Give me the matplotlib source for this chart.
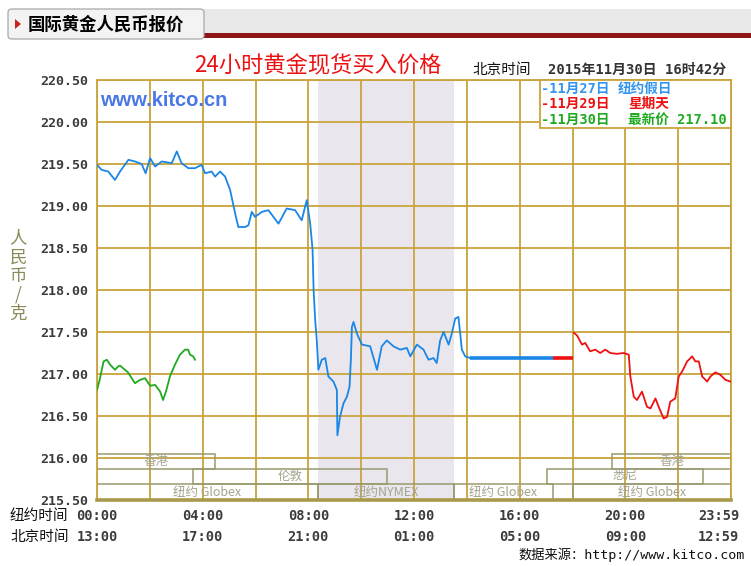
import matplotlib
matplotlib.use('Agg')
import matplotlib.pyplot as plt
import matplotlib.transforms as mtransforms
from matplotlib.patches import Rectangle, FancyBboxPatch, Polygon
import numpy as np

# ---------------- data ----------------
# 11/27 (NY holiday) - hours NY time, price RMB/g
blue_h = [0.0, 0.18, 0.43, 0.68, 0.87, 1.19, 1.44, 1.69, 1.84, 2.01, 2.2, 2.45, 2.83, 3.02,
          3.2, 3.46, 3.71, 3.96, 4.09, 4.34, 4.47, 4.66, 4.85, 5.04, 5.23, 5.35, 5.61, 5.73,
          5.86, 5.98, 6.24, 6.49, 6.87, 7.18, 7.5, 7.75, 7.94, 8.07, 8.16, 8.2, 8.26, 8.32,
          8.38, 8.51, 8.64, 8.76, 8.95, 9.08, 9.1, 9.2, 9.33, 9.46, 9.56, 9.61, 9.65, 9.71,
          9.84, 10.03, 10.34, 10.6, 10.78, 10.97, 11.22, 11.48, 11.73, 11.86, 12.11, 12.36,
          12.55, 12.74, 12.86, 12.99, 13.12, 13.31, 13.43, 13.56, 13.68, 13.75, 13.81, 13.94,
          14.13]
blue_v = [219.49, 219.43, 219.41, 219.31, 219.41, 219.55, 219.53, 219.50, 219.39, 219.57,
          219.47, 219.53, 219.51, 219.65, 219.51, 219.45, 219.45, 219.49, 219.39, 219.41,
          219.35, 219.41, 219.35, 219.19, 218.91, 218.75, 218.75, 218.77, 218.93, 218.87,
          218.93, 218.95, 218.79, 218.97, 218.95, 218.83, 219.07, 218.79, 218.48, 218.00,
          217.64, 217.40, 217.05, 217.17, 217.19, 216.97, 216.91, 216.81, 216.27, 216.49,
          216.65, 216.73, 216.85, 217.17, 217.56, 217.62, 217.48, 217.35, 217.33, 217.05,
          217.33, 217.40, 217.33, 217.29, 217.31, 217.21, 217.35, 217.29, 217.17, 217.19,
          217.13, 217.40, 217.50, 217.35, 217.48, 217.66, 217.68, 217.48, 217.29, 217.21,
          217.19]
blue_flat_h = [14.13, 17.28]
blue_flat_v = [217.19, 217.19]
red_flat_h = [17.28, 18.0]
red_flat_v = [217.19, 217.19]

# 11/29 (Sunday)
red_h = [18.05, 18.17, 18.36, 18.48, 18.67, 18.86, 19.05, 19.24, 19.43, 19.68, 19.94, 20.13,
         20.19, 20.32, 20.44, 20.63, 20.82, 20.95, 21.14, 21.26, 21.45, 21.58, 21.7, 21.89,
         22.02, 22.15, 22.34, 22.53, 22.65, 22.78, 22.91, 23.1, 23.22, 23.41, 23.6, 23.79,
         23.98]
red_v = [217.49, 217.46, 217.35, 217.37, 217.27, 217.29, 217.25, 217.29, 217.25, 217.24,
         217.25, 217.23, 216.97, 216.73, 216.69, 216.79, 216.61, 216.59, 216.71, 216.61,
         216.47, 216.49, 216.67, 216.71, 216.97, 217.03, 217.15, 217.21, 217.15, 217.15,
         216.97, 216.91, 216.97, 217.02, 216.99, 216.93, 216.91]

# 11/30 (latest)
green_h = [0.0, 0.1, 0.25, 0.37, 0.5, 0.68, 0.8, 0.87, 1.17, 1.44, 1.63, 1.82, 2.01, 2.2,
           2.39, 2.5, 2.61, 2.77, 2.95, 3.14, 3.33, 3.45, 3.52, 3.64, 3.71]
green_v = [216.81, 216.93, 217.15, 217.17, 217.11, 217.05, 217.09, 217.10, 217.02, 216.89,
           216.93, 216.95, 216.86, 216.87, 216.79, 216.69, 216.79, 216.98, 217.11, 217.23,
           217.29, 217.29, 217.23, 217.21, 217.17]

y_ticks = [215.5, 216.0, 216.5, 217.0, 217.5, 218.0, 218.5, 219.0, 219.5, 220.0, 220.5]
x_label_hours = [0, 4, 8, 12, 16, 20, 24]
ny_labels = ['00:00', '04:00', '08:00', '12:00', '16:00', '20:00', '23:59']
bj_labels = ['13:00', '17:00', '21:00', '01:00', '05:00', '09:00', '12:59']

nymex_session = (8.37, 13.52)
# market sessions: (label, start hour, end hour, row)
markets = [
    ('香港', 0.0, 4.47, 0),
    ('香港', 19.5, 24.0, 0),
    ('伦敦', 3.64, 10.97, 1),
    ('悉尼', 17.03, 22.95, 1),
    ('纽约 Globex', 0.0, 8.37, 2),
    ('纽约NYMEX', 8.37, 13.52, 2),
    ('纽约 Globex', 13.52, 17.25, 2),
    ('纽约 Globex', 18.0, 24.0, 2),
]
row_edges = [216.05, 215.87, 215.69, 215.5]

legend_dates = ['-11月27日', '-11月29日', '-11月30日']
legend_notes = ['纽约假日', '星期天', '最新价 217.10']

# ---------------- style ----------------
GOLD = '#c9a43c'
OLIVE = '#9a9a6e'
BLUE = '#1a86e6'
RED = '#ee1111'
GREEN = '#1faa1f'
CJK = ['Noto Sans CJK SC', 'DejaVu Sans']
MONO_CJK = ['DejaVu Sans Mono', 'Noto Sans CJK SC']

W, H = 751, 566
fig = plt.figure(figsize=(W / 100, H / 100), dpi=100)
fig.patch.set_facecolor('white')


def fx(x):
    return x / W


def fy(y):
    return 1 - y / H


# ---------------- header ----------------
fig.patches.append(Rectangle((fx(204), fy(35)), fx(751) - fx(204), fy(9) - fy(35),
                             transform=fig.transFigure, fc='#e8e8e8', ec='none'))
fig.patches.append(Rectangle((fx(204), fy(37.5)), fx(751) - fx(204), fy(33.5) - fy(37.5),
                             transform=fig.transFigure, fc='#8e1616', ec='none'))
fig.patches.append(FancyBboxPatch((fx(8), fy(39)), fx(204) - fx(8), fy(9) - fy(39),
                                  boxstyle='round,pad=0,rounding_size=0.006',
                                  transform=fig.transFigure, fc='#f3f3f3', ec='#a8a8a8', lw=0.9))
fig.patches.append(Polygon([[fx(15), fy(19)], [fx(15), fy(29)], [fx(21), fy(24)]],
                           closed=True, transform=fig.transFigure, fc='#cc2020', ec='none'))
fig.text(fx(28), fy(25), '国际黄金人民币报价', family=CJK, fontsize=12.5, fontweight='bold',
         color='black', ha='left', va='center')

# ---------------- axes ----------------
ax = fig.add_axes([fx(97), fy(500), fx(731) - fx(97), fy(80) - fy(500)])
ax.set_xlim(0, 24)
ax.set_ylim(215.5, 220.5)
ax.set_xticks(range(0, 25, 2))
ax.set_xticklabels([])
ax.set_yticks(y_ticks)
ax.set_yticklabels(['%.2f' % v for v in y_ticks], family='DejaVu Sans Mono',
                   fontweight='bold', fontsize=9.6, color='#3c3c3c')
ax.tick_params(length=0, pad=6)
ax.set_axisbelow(True)
ax.grid(True, color=GOLD, lw=1.3)
for s in ['left', 'top', 'right']:
    ax.spines[s].set_color(GOLD)
    ax.spines[s].set_linewidth(1.3)
ax.spines['bottom'].set_color('#a89a4a')
ax.spines['bottom'].set_linewidth(2.6)

ax.axvspan(nymex_session[0], nymex_session[1], color='#e9e7ed', zorder=0, lw=0)

# market sessions
for label, s, e, row in markets:
    top = row_edges[row]
    bot = row_edges[row + 1]
    ax.add_patch(Rectangle((s, bot), e - s, top - bot, fill=False, ec=OLIVE, lw=1.1,
                           zorder=1.5))
    ax.text((s + e) / 2, (top + bot) / 2, label, family=CJK, fontsize=9,
            color='#a4a48c', ha='center', va='center', zorder=1.6)

# price lines
ax.plot(blue_h, blue_v, color=BLUE, lw=1.3, zorder=3)
ax.plot(blue_flat_h, blue_flat_v, color=BLUE, lw=2.6, zorder=3, solid_capstyle='butt')
ax.plot(red_flat_h, red_flat_v, color=RED, lw=2.6, zorder=3, solid_capstyle='butt')
ax.plot(red_h, red_v, color=RED, lw=1.3, zorder=3)
ax.plot(green_h, green_v, color=GREEN, lw=1.3, zorder=3)

# legend box
ax.add_patch(Rectangle(((540 - 97) / 634, 1 - 48 / 420), 1 - (540 - 97) / 634, 48 / 420,
                       transform=ax.transAxes, fc='white', ec=GOLD, lw=1.3, zorder=4,
                       clip_on=False))
leg_colors = ['#3395f0', RED, GREEN]
leg_y = [89, 104, 120]
leg_note_x = [618, 628, 628]
for d, n, c, y, nx in zip(legend_dates, legend_notes, leg_colors, leg_y, leg_note_x):
    fig.text(fx(541), fy(y), d, family=MONO_CJK, fontsize=9.8, fontweight='bold',
             color=c, ha='left', va='center', zorder=5)
    fig.text(fx(nx), fy(y), n, family=MONO_CJK, fontsize=9.8, fontweight='bold',
             color=c, ha='left', va='center', zorder=5)

# watermark
fig.text(fx(100), fy(101), 'www.kitco.cn', family='Liberation Sans', fontweight='bold',
         fontsize=14.5, color='#4a78e6', ha='left', va='center')

# title and time
fig.text(fx(318), fy(66), '24小时黄金现货买入价格', family=CJK, fontsize=16,
         color='#ee1111', ha='center', va='center')
fig.text(fx(472), fy(70), '北京时间', family=CJK, fontsize=10.5, color='#111111',
         ha='left', va='center')
fig.text(fx(548), fy(70), '2015年11月30日 16时42分', family=MONO_CJK, fontsize=10,
         fontweight='bold', color='#333333', ha='left', va='center')

# y label
fig.text(fx(18), fy(276), '人\n民\n币\n/\n克', family=CJK, fontsize=12.5,
         color='#8a8a58', ha='center', va='center', linespacing=1.05)

# x labels
blend = mtransforms.blended_transform_factory(ax.transData, fig.transFigure)
shift = mtransforms.ScaledTranslation(8 / 100, 0, fig.dpi_scale_trans)
for i, (h, a, b) in enumerate(zip(x_label_hours, ny_labels, bj_labels)):
    tr = blend + shift if i == len(x_label_hours) - 1 else blend
    ha = 'right' if i == len(x_label_hours) - 1 else 'center'
    for y, t in [(516, a), (537, b)]:
        ax.text(h, fy(y), t, transform=tr, family='DejaVu Sans Mono', fontweight='bold',
                fontsize=9.8, color='#3c3c3c', ha=ha, va='center', clip_on=False)
fig.text(fx(10), fy(516), '纽约时间', family=CJK, fontsize=10.5, color='#111111',
         ha='left', va='center')
fig.text(fx(10), fy(537), '北京时间', family=CJK, fontsize=10.5, color='#111111',
         ha='left', va='center')

# footer
fig.text(fx(745), fy(555), '数据来源：http://www.kitco.com', family=MONO_CJK, fontsize=9.5,
         color='#111111', ha='right', va='center')

fig.savefig('out.png', dpi=100, facecolor='white')
